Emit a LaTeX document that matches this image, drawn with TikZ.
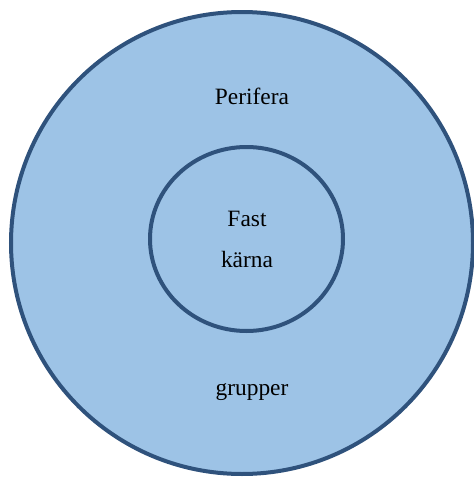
\documentclass[tikz,border=0pt]{standalone}
\usepackage{fontspec}
\setmainfont{Liberation Serif}
\definecolor{fillblue}{RGB}{157,195,230}
\definecolor{edgeblue}{RGB}{47,82,124}
\begin{document}
\begin{tikzpicture}[x=1pt,y=-1pt,
  ring/.style={draw=edgeblue,fill=fillblue,line width=4pt},
  lbl/.style={anchor=base,inner sep=0pt,font=\fontsize{23.4}{28}\selectfont}]
\useasboundingbox (0,0) rectangle (474,477);
\draw[ring] (242,243) circle [radius=231];
\draw[ring] (246.5,239) ellipse [x radius=96.5, y radius=92];
\node[lbl] (per) at (252,104) {Perifera};
\node[lbl] (fast) at (247,226) {Fast};
\node[lbl] (karna) at (247,267) {kärna};
\node[lbl] (grp) at (252,395) {grupper};
\end{tikzpicture}
\end{document}
